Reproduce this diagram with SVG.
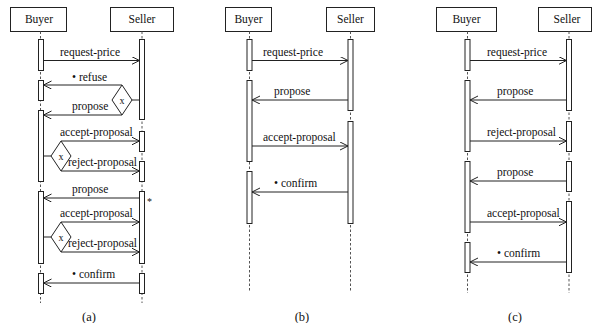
<svg xmlns="http://www.w3.org/2000/svg" width="592" height="323" viewBox="0 0 592 323" font-family="'Liberation Serif', 'DejaVu Serif', serif">
<style>
text{font-family:'Liberation Serif','DejaVu Serif',serif;font-size:11.5px;fill:#111}
.hd{text-anchor:middle}
.cap{text-anchor:middle;font-size:12.5px}
.box{fill:#fff;stroke:#222;stroke-width:1}
.life{stroke:#555;stroke-width:1;stroke-dasharray:2.5,2}
.bar{fill:#fff;stroke:#222;stroke-width:1}
.msg{stroke:#222;stroke-width:1;fill:none;marker-end:url(#ah)}
.ln{stroke:#222;stroke-width:1;fill:none}
.dia{fill:#fff;stroke:#222;stroke-width:1}
</style>
<defs>
<marker id="ah" markerUnits="userSpaceOnUse" markerWidth="10" markerHeight="10" refX="8" refY="4" orient="auto">
<path d="M0,0 L8,4 L0,8" fill="none" stroke="#222" stroke-width="1"/>
</marker>
</defs>

<!-- (a) -->
<g id="a-buyer">
<rect class="box" x="10.5" y="7.5" width="56" height="24"/>
<text class="hd" x="39" y="23">Buyer</text>
<line class="life" x1="40.5" y1="31.5" x2="40.5" y2="303"/>
<rect class="bar" x="38.5" y="39.5" width="5" height="31"/>
<rect class="bar" x="38.5" y="80.5" width="5" height="20"/>
<rect class="bar" x="38.5" y="110.5" width="5" height="71"/>
<rect class="bar" x="38.5" y="191.5" width="5" height="72"/>
<rect class="bar" x="38.5" y="273.5" width="5" height="20"/>
</g>
<g id="a-seller">
<rect class="box" x="110.5" y="7.5" width="63" height="24"/>
<text class="hd" x="142" y="23">Seller</text>
<line class="life" x1="142" y1="31.5" x2="142" y2="303"/>
<rect class="bar" x="139.5" y="39.5" width="5" height="80"/>
<rect class="bar" x="139.5" y="131.5" width="5" height="20"/>
<rect class="bar" x="139.5" y="161.5" width="5" height="20"/>
<rect class="bar" x="139.5" y="191.5" width="5" height="72"/>
<rect class="bar" x="139.5" y="273.5" width="5" height="20"/>
</g>
<g id="a-x1"><path class="dia" d="M122,85 L132,100 L122,115 L112,100 Z"/><text class="hd" x="122" y="103.5" style="font-size:10px">x</text></g>
<g id="a-x2"><path class="dia" d="M61,141 L71,156 L61,171 L51,156 Z"/><text class="hd" x="61" y="159.5" style="font-size:10px">x</text></g>
<g id="a-x3"><path class="dia" d="M61,222 L71,237 L61,252 L51,237 Z"/><text class="hd" x="61" y="240.5" style="font-size:10px">x</text></g>
<text class="cap" x="89" y="321">(a)</text>

<!-- (b) -->
<g id="b-buyer">
<rect class="box" x="225.5" y="7.5" width="46" height="24"/>
<text class="hd" x="248.5" y="23">Buyer</text>
<line class="life" x1="249.5" y1="31.5" x2="249.5" y2="291"/>
<rect class="bar" x="247" y="39.5" width="5" height="31"/>
<rect class="bar" x="247" y="80.5" width="5" height="81"/>
<rect class="bar" x="247" y="171.5" width="5" height="52"/>
</g>
<g id="b-seller">
<rect class="box" x="326.5" y="7.5" width="48" height="24"/>
<text class="hd" x="350.5" y="23">Seller</text>
<line class="life" x1="350.5" y1="31.5" x2="350.5" y2="291"/>
<rect class="bar" x="348" y="39.5" width="5" height="71"/>
<rect class="bar" x="348" y="121.5" width="5" height="102"/>
</g>
<text class="cap" x="302" y="321">(b)</text>

<!-- (c) -->
<g id="c-buyer">
<rect class="box" x="436.5" y="7.5" width="60" height="24"/>
<text class="hd" x="466.5" y="23">Buyer</text>
<line class="life" x1="467.5" y1="31.5" x2="467.5" y2="293"/>
<rect class="bar" x="465" y="39.5" width="5" height="31"/>
<rect class="bar" x="465" y="80.5" width="5" height="71"/>
<rect class="bar" x="465" y="161.5" width="5" height="71"/>
<rect class="bar" x="465" y="242.5" width="5" height="30"/>
</g>
<g id="c-seller">
<rect class="box" x="538.5" y="7.5" width="53" height="24"/>
<text class="hd" x="567" y="23">Seller</text>
<line class="life" x1="569" y1="31.5" x2="569" y2="293"/>
<rect class="bar" x="566.5" y="39.5" width="5" height="71"/>
<rect class="bar" x="566.5" y="121.5" width="5" height="30"/>
<rect class="bar" x="566.5" y="161.5" width="5" height="30"/>
<rect class="bar" x="566.5" y="201.5" width="5" height="71"/>
</g>
<text class="cap" x="515" y="321">(c)</text>

<g id="connectors">
<!-- (a) -->
<line class="msg" x1="43.5" y1="60.5" x2="139.5" y2="60.5"/>
<text x="60" y="55.5">request-price</text>
<line class="msg" x1="122" y1="85" x2="43.5" y2="85"/>
<text x="72" y="80.5">• refuse</text>
<line class="ln" x1="132" y1="100" x2="139.5" y2="100"/>
<line class="msg" x1="122" y1="115" x2="43.5" y2="115"/>
<text x="72" y="110">propose</text>
<line class="ln" x1="43.5" y1="156" x2="51" y2="156"/>
<line class="msg" x1="61" y1="141" x2="139.5" y2="141"/>
<text x="60" y="136">accept-proposal</text>
<line class="msg" x1="61" y1="171" x2="139.5" y2="171"/>
<text x="68" y="166">reject-proposal</text>
<line class="msg" x1="139.5" y1="198" x2="43.5" y2="198"/>
<text x="72" y="193">propose</text>
<text x="147" y="205" style="font-size:10px">*</text>
<line class="ln" x1="43.5" y1="237" x2="51" y2="237"/>
<line class="msg" x1="61" y1="222" x2="139.5" y2="222"/>
<text x="60" y="217">accept-proposal</text>
<line class="msg" x1="61" y1="252" x2="139.5" y2="252"/>
<text x="68" y="247">reject-proposal</text>
<line class="msg" x1="139.5" y1="283" x2="43.5" y2="283"/>
<text x="72" y="278">• confirm</text>
<!-- (b) -->
<line class="msg" x1="252" y1="60.5" x2="348" y2="60.5"/>
<text x="263" y="55.5">request-price</text>
<line class="msg" x1="348" y1="100" x2="252" y2="100"/>
<text x="274" y="95">propose</text>
<line class="msg" x1="252" y1="146" x2="348" y2="146"/>
<text x="263" y="141">accept-proposal</text>
<line class="msg" x1="348" y1="192" x2="252" y2="192"/>
<text x="274" y="187">• confirm</text>
<!-- (c) -->
<line class="msg" x1="470" y1="60.5" x2="566.5" y2="60.5"/>
<text x="487" y="55.5">request-price</text>
<line class="msg" x1="566.5" y1="100" x2="470" y2="100"/>
<text x="497" y="95">propose</text>
<line class="msg" x1="470" y1="141" x2="566.5" y2="141"/>
<text x="487" y="136">reject-proposal</text>
<line class="msg" x1="566.5" y1="181" x2="470" y2="181"/>
<text x="497" y="176">propose</text>
<line class="msg" x1="470" y1="222" x2="566.5" y2="222"/>
<text x="487" y="217">accept-proposal</text>
<line class="msg" x1="566.5" y1="262" x2="470" y2="262"/>
<text x="497" y="257">• confirm</text>
</g>
</svg>
